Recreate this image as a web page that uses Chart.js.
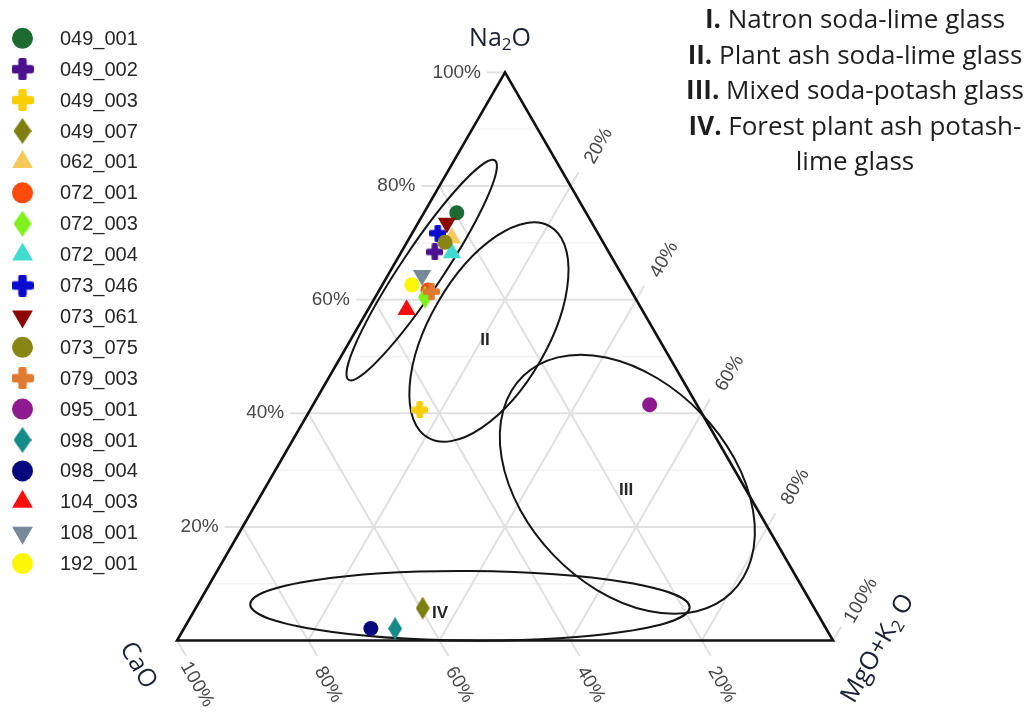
<!DOCTYPE html>
<html>
<head>
<meta charset="utf-8">
<title>Na2O – CaO – MgO+K2O ternary diagram</title>
<script src="https://cdn.jsdelivr.net/npm/chart.js@4.4.1/dist/chart.umd.min.js"></script>
<style>
  html, body { margin: 0; padding: 0; background: #ffffff; }
  canvas { display: block; }
</style>
</head>
<body>
<canvas id="ternary" width="1029" height="715"></canvas>
<script>
// ---- sample compositions (wt% normalised to Na2O + CaO + MgO+K2O) ----
const samples = ['049_001', '049_002', '049_003', '049_007', '062_001', '072_001',
                 '072_003', '072_004', '073_046', '073_061', '073_075', '079_003',
                 '095_001', '098_001', '098_004', '104_003', '108_001', '192_001'];
const na2o   = [75.3, 68.4, 40.6,  5.7, 70.9, 61.7, 60.5, 68.2, 71.7, 73.5, 70.1, 61.4, 41.5,  2.1,  2.1, 58.2, 64.3, 62.6];
const cao    = [19.7, 26.5, 42.7, 59.7, 22.7, 30.9, 32.0, 24.0, 24.4, 22.1, 24.1, 30.5,  7.2, 65.7, 69.4, 35.9, 30.5, 32.9];
const mgoK2o = [ 5.0,  5.1, 16.7, 34.6,  6.5,  7.4,  7.6,  7.8,  3.9,  4.4,  5.8,  8.1, 51.3, 32.2, 28.5,  5.9,  5.2,  4.5];

const markerColors = ['#1d6b30', '#4b1190', '#f8cf05', '#7e7e12', '#f6c95a', '#ff4a0e',
                      '#7ef21c', '#3fdccf', '#0b0bd0', '#8b0505', '#878612', '#e07a30',
                      '#8d1a8f', '#178a8a', '#07077e', '#f50f0f', '#778899', '#fbf705'];
const markerShapes = ['circle', 'plus', 'plus', 'diamond', 'triangle', 'circle',
                      'diamond', 'triangle', 'plus', 'triangleDown', 'circle', 'plus',
                      'circle', 'diamond', 'circle', 'triangle', 'triangleDown', 'circle'];

// ---- axis ticks ----
const tickValues = [20, 40, 60, 80, 100];
const tickLabels = ['20%', '40%', '60%', '80%', '100%'];
const gridValues = [20, 40, 60, 80];
const minorGridValues = [10, 30, 50, 70, 90];

// ---- glass-type fields (ellipse centre as composition, semi-axes in units of the triangle side) ----
const regionNames     = ['I', 'II', 'III', 'IV'];
const regionNa2o      = [65.2, 54.3, 27.5,  6.1];
const regionCaO       = [30.1, 25.3, 17.6, 52.3];
const regionMgoK2o    = [ 4.7, 20.4, 54.9, 41.6];
const regionSemiMajor = [0.201, 0.186, 0.229, 0.335];
const regionSemiMinor = [0.032, 0.090, 0.156, 0.053];
const regionTiltDeg   = [-56.3, -60.0, 46.2, 0.4];
const regionLabelShown = [false, true, true, true];
const regionLabelNa2o  = [0, 52.9, 26.5,  4.8];
const regionLabelCaO   = [0, 26.6, 18.3, 57.5];
const regionLabelMgoK2o = [0, 20.5, 55.2, 37.7];

const glassTypes = [
  ['I.', ' Natron soda-lime glass'],
  ['II.', ' Plant ash soda-lime glass'],
  ['III.', ' Mixed soda-potash glass'],
  ['IV.', ' Forest plant ash potash-'],
  ['', 'lime glass']
];

// ---- ternary → cartesian (CaO left, MgO+K2O right, Na2O apex; side length 1) ----
const H = Math.sqrt(3) / 2;
function ternaryXY(na, ca, mk) {
  const s = na + ca + mk;
  const n = na / s, m = mk / s;
  return { x: m + n / 2, y: n * H };
}

// ---- layout of the plotting frame ----
const PX_PER_UNIT = 656;
const ORIGIN_X = 177, ORIGIN_Y = 640.5;
const CANVAS_W = 1029, CANVAS_H = 715;
const X_MIN = -ORIGIN_X / PX_PER_UNIT, X_MAX = X_MIN + CANVAS_W / PX_PER_UNIT;
const Y_MIN = -(CANVAS_H - ORIGIN_Y) / PX_PER_UNIT, Y_MAX = Y_MIN + CANVAS_H / PX_PER_UNIT;

// ---- marker images for plus and diamond shapes ----
function shapeCanvas(kind, color, w, h, arm) {
  const c = document.createElement('canvas');
  c.width = w; c.height = h;
  const g = c.getContext('2d');
  g.fillStyle = color;
  if (kind === 'plus') {
    const r = arm * 0.25;
    g.beginPath();
    g.roundRect((w - arm) / 2, 0, arm, h, r);
    g.roundRect(0, (h - arm) / 2, w, arm, r);
    g.fill();
  } else if (kind === 'diamond') {
    g.beginPath();
    g.moveTo(w / 2, 0); g.lineTo(w, h / 2); g.lineTo(w / 2, h); g.lineTo(0, h / 2);
    g.closePath(); g.fill();
  }
  return c;
}

function markerSpec(shape, color, big) {
  switch (shape) {
    case 'circle':       return { style: 'circle',   radius: big ? 10.5 : 7.5, rotation: 0 };
    case 'triangle':     return { style: 'triangle', radius: big ? 12 : 10.5, rotation: 0 };
    case 'triangleDown': return { style: 'triangle', radius: big ? 12 : 10.5, rotation: 180 };
    case 'plus':         return { style: big ? shapeCanvas('plus', color, 22, 22, 8.5) : shapeCanvas('plus', color, 17, 17, 6.5), radius: big ? 11 : 8.5, rotation: 0 };
    case 'diamond':      return { style: big ? shapeCanvas('diamond', color, 18, 26) : shapeCanvas('diamond', color, 14, 23), radius: big ? 12 : 10, rotation: 0 };
  }
}

const datasets = samples.map((name, i) => {
  const m = markerSpec(markerShapes[i], markerColors[i], false);
  return {
    label: name,
    data: [ternaryXY(na2o[i], cao[i], mgoK2o[i])],
    pointStyle: m.style,
    pointRadius: m.radius,
    pointRotation: m.rotation,
    pointBackgroundColor: markerColors[i],
    pointBorderColor: markerColors[i],
    pointBorderWidth: 0,
    showLine: false,
    clip: false,
    order: -i
  };
});

const legendMarkers = samples.map((n, i) => markerSpec(markerShapes[i], markerColors[i], true));

// ---- drawing helpers ----
function seg(ctx, a, b) {
  ctx.beginPath(); ctx.moveTo(a[0], a[1]); ctx.lineTo(b[0], b[1]); ctx.stroke();
}
function richText(ctx, parts, cx, cy, angle, size, family, color) {
  ctx.save();
  ctx.translate(cx, cy);
  ctx.rotate(angle);
  ctx.fillStyle = color;
  ctx.textBaseline = 'middle';
  ctx.textAlign = 'left';
  const fontOf = p => `${p.bold ? 'bold ' : ''}${p.sub ? Math.round(size * 0.66) : size}px ${family}`;
  let w = 0;
  parts.forEach(p => { ctx.font = fontOf(p); w += ctx.measureText(p.t).width; });
  let x = -w / 2;
  parts.forEach(p => {
    ctx.font = fontOf(p);
    ctx.fillText(p.t, x, p.sub ? size * 0.28 : 0);
    x += ctx.measureText(p.t).width;
  });
  ctx.restore();
}

const ternaryFrame = {
  id: 'ternaryFrame',
  beforeDatasetsDraw(chart) {
    const ctx = chart.ctx;
    const xs = chart.scales.x, ys = chart.scales.y;
    const P = (na, ca, mk) => { const q = ternaryXY(na, ca, mk); return [xs.getPixelForValue(q.x), ys.getPixelForValue(q.y)]; };
    const unit = xs.getPixelForValue(1) - xs.getPixelForValue(0);
    ctx.save();
    ctx.lineCap = 'butt';

    // faint intermediate Na2O lines
    ctx.strokeStyle = '#f3f3f3';
    ctx.lineWidth = 1.5;
    minorGridValues.forEach(k => seg(ctx, P(k, 100 - k, 0), P(k, 0, 100 - k)));

    // grid
    ctx.strokeStyle = '#e0e0e0';
    ctx.lineWidth = 2;
    gridValues.forEach(k => {
      seg(ctx, P(k, 100 - k, 0), P(k, 0, 100 - k));     // Na2O constant
      seg(ctx, P(100 - k, k, 0), P(0, k, 100 - k));     // CaO constant
      seg(ctx, P(100 - k, 0, k), P(0, 100 - k, k));     // MgO+K2O constant
    });

    // tick marks outside the triangle
    const c60 = 0.5, s60 = H;
    tickValues.forEach(k => {
      const a = P(k, 100 - k, 0);
      seg(ctx, a, [a[0] - 18, a[1]]);
      const b = P(0, k, 100 - k);
      seg(ctx, b, [b[0] + c60 * 18, b[1] + s60 * 18]);
      const c = P(100 - k, 0, k);
      seg(ctx, c, [c[0] + c60 * 16, c[1] - s60 * 16]);
    });

    // triangle outline
    const A = P(100, 0, 0), B = P(0, 100, 0), C = P(0, 0, 100);
    ctx.strokeStyle = '#111111';
    ctx.lineWidth = 2.6;
    ctx.lineJoin = 'miter';
    ctx.beginPath();
    ctx.moveTo(A[0], A[1]); ctx.lineTo(B[0], B[1]); ctx.lineTo(C[0], C[1]); ctx.closePath();
    ctx.stroke();

    // glass-type fields
    ctx.lineWidth = 2;
    ctx.strokeStyle = '#151515';
    regionNames.forEach((nm, i) => {
      const c = P(regionNa2o[i], regionCaO[i], regionMgoK2o[i]);
      ctx.beginPath();
      ctx.ellipse(c[0], c[1], regionSemiMajor[i] * unit, regionSemiMinor[i] * unit,
                  regionTiltDeg[i] * Math.PI / 180, 0, Math.PI * 2);
      ctx.stroke();
    });

    // field labels
    ctx.fillStyle = '#262626';
    ctx.font = 'bold 17px "Liberation Sans", Arial, sans-serif';
    ctx.textAlign = 'center';
    ctx.textBaseline = 'middle';
    regionNames.forEach((nm, i) => {
      if (!regionLabelShown[i]) return;
      const p = P(regionLabelNa2o[i], regionLabelCaO[i], regionLabelMgoK2o[i]);
      ctx.fillText(nm, p[0], p[1]);
    });

    // tick labels
    ctx.fillStyle = '#474747';
    ctx.font = '19px "Liberation Sans", Arial, sans-serif';
    tickValues.forEach((k, i) => {
      const a = P(k, 100 - k, 0);
      ctx.textAlign = 'right';
      ctx.fillText(tickLabels[i], a[0] - 24, a[1]);
      ctx.textAlign = 'center';
      const b = P(0, k, 100 - k);
      ctx.save(); ctx.translate(b[0] + 20, b[1] + 44); ctx.rotate(Math.PI / 3);
      ctx.fillText(tickLabels[i], 0, 0); ctx.restore();
      const c = P(100 - k, 0, k);
      ctx.save(); ctx.translate(c[0] + 28, c[1] - 40); ctx.rotate(-Math.PI / 3);
      ctx.fillText(tickLabels[i], 0, 0); ctx.restore();
    });

    // axis titles
    const fam = '"Open Sans", "DejaVu Sans", sans-serif';
    richText(ctx, [{ t: 'Na' }, { t: '2', sub: true }, { t: 'O' }], A[0] - 5, A[1] - 34, 0, 25, fam, '#1c2233');
    richText(ctx, [{ t: 'CaO' }], B[0] - 39, B[1] + 25, Math.PI / 3, 25, fam, '#1c2233');
    richText(ctx, [{ t: 'MgO+K' }, { t: '2', sub: true }, { t: ' O' }], C[0] + 45, C[1] + 8, -Math.PI / 3, 25, fam, '#1c2233');
    ctx.restore();
  },
  afterDraw(chart) {
    const ctx = chart.ctx;
    ctx.save();
    // sample key
    chart.data.datasets.forEach((ds, i) => {
      const y = 38.3 + i * 30.9;
      const m = legendMarkers[i];
      ctx.fillStyle = markerColors[i];
      Chart.helpers.drawPoint(ctx, { pointStyle: m.style, radius: m.radius, rotation: m.rotation, borderWidth: 0 }, 22.5, y);
      ctx.fillStyle = '#262626';
      ctx.font = '20px "Liberation Sans", Arial, sans-serif';
      ctx.textAlign = 'left';
      ctx.textBaseline = 'middle';
      ctx.fillText(ds.label, 60, y + 1);
    });

    // glass-type descriptions
    const fam = '"Open Sans", "DejaVu Sans", sans-serif';
    ctx.fillStyle = '#1e1e1e';
    ctx.textBaseline = 'alphabetic';
    ctx.textAlign = 'left';
    glassTypes.forEach((ln, i) => {
      const yb = 28 + i * 35.5;
      ctx.font = `bold 26px ${fam}`;
      const w1 = ctx.measureText(ln[0]).width;
      ctx.font = `26px ${fam}`;
      const w2 = ctx.measureText(ln[1]).width;
      const x0 = 855 - (w1 + w2) / 2;
      ctx.font = `bold 26px ${fam}`;
      ctx.fillText(ln[0], x0, yb);
      ctx.font = `26px ${fam}`;
      ctx.fillText(ln[1], x0 + w1, yb);
    });
    ctx.restore();
  }
};

new Chart(document.getElementById('ternary'), {
  type: 'scatter',
  data: { datasets },
  options: {
    responsive: false,
    animation: false,
    devicePixelRatio: 1,
    events: [],
    layout: { padding: 0, autoPadding: false },
    plugins: { legend: { display: false }, tooltip: { enabled: false } },
    scales: {
      x: { type: 'linear', display: false, min: X_MIN, max: X_MAX },
      y: { type: 'linear', display: false, min: Y_MIN, max: Y_MAX }
    }
  },
  plugins: [ternaryFrame]
});
</script>
</body>
</html>
